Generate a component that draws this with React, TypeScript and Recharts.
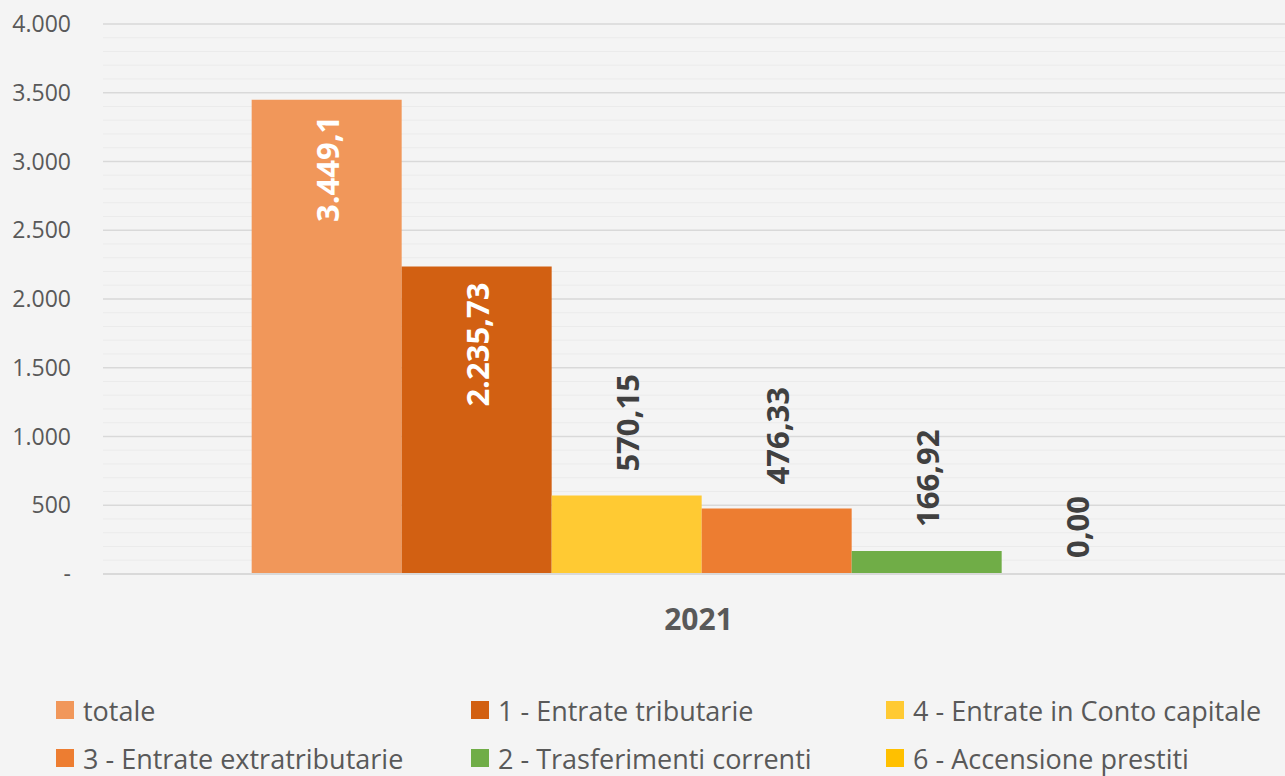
import { BarChart, Bar, XAxis, YAxis, CartesianGrid, LabelList } from "recharts";

const categories = ["2021"];

const seriesNames = [
  "totale",
  "1 - Entrate tributarie",
  "4 - Entrate in Conto capitale",
  "3 - Entrate extratributarie",
  "2 - Trasferimenti correnti",
  "6 - Accensione prestiti",
];
const seriesValues = [3449.1, 2235.73, 570.15, 476.33, 166.92, 0];
const seriesLabels = ["3.449,1", "2.235,73", "570,15", "476,33", "166,92", "0,00"];
const seriesColors = ["#F1975A", "#D26012", "#FFCA33", "#ED7D31", "#70AD47", "#FFC000"];

const yTicks = [0, 500, 1000, 1500, 2000, 2500, 3000, 3500, 4000];
const yTickLabels = ["-", "500", "1.000", "1.500", "2.000", "2.500", "3.000", "3.500", "4.000"];
const minorTicks = [
  100, 200, 300, 400, 600, 700, 800, 900, 1100, 1200, 1300, 1400, 1600, 1700, 1800, 1900,
  2100, 2200, 2300, 2400, 2600, 2700, 2800, 2900, 3100, 3200, 3300, 3400, 3600, 3700, 3800, 3900,
];

const data = categories.map((category, ci) => {
  const row: Record<string, string | number> = { category };
  seriesValues.forEach((v, i) => {
    row["s" + i] = ci === 0 ? v : 0;
  });
  return row;
});

const FONT = "'Open Sans', 'Segoe UI', sans-serif";

// white labels inside the two tall bars, dark ones above the others
const makeLabel = (idx: number) => (props: any) => {
  const { x, y, width, value } = props;
  const inside = idx < 2;
  const cx = Number(x) + Number(width) / 2;
  const gap = Number(value) === 0 ? 16 : 24;
  const ty = inside ? Number(y) + 16 : Number(y) - gap;
  return (
    <text
      x={cx}
      y={ty}
      transform={`rotate(-90 ${cx} ${ty})`}
      textAnchor={inside ? "end" : "start"}
      dominantBaseline="central"
      fill={inside ? "#ffffff" : "#404040"}
      fontSize={31}
      fontWeight={700}
      fontFamily={FONT}
    >
      {seriesLabels[idx]}
    </text>
  );
};

const legendCols = [56, 471, 886];
const legendRows = [710, 758];

export default function App() {
  return (
    <div
      style={{
        position: "fixed",
        left: 0,
        top: 0,
        width: 1285,
        height: 776,
        overflow: "hidden",
        background: "#f4f4f4",
        fontFamily: FONT,
      }}
    >
      <BarChart
        width={1302}
        height={776}
        data={data}
        margin={{ top: 24, right: 0, left: 0, bottom: 142 }}
        barCategoryGap="12.4%"
        barGap={0}
      >
        <CartesianGrid vertical={false} horizontalValues={minorTicks} stroke="#ebebeb" strokeWidth={1} />
        <CartesianGrid vertical={false} stroke="#d9d9d9" strokeWidth={1.5} />
        <XAxis
          dataKey="category"
          height={60}
          tickLine={false}
          tickSize={0}
          tickMargin={35}
          axisLine={{ stroke: "#d9d9d9", strokeWidth: 2 }}
          tick={{ fontSize: 30, fontWeight: 700, fill: "#595959", fontFamily: FONT, dx: -4 }}
        />
        <YAxis
          width={103}
          domain={[0, 4000]}
          ticks={yTicks}
          interval={0}
          axisLine={false}
          tickLine={false}
          tickSize={0}
          tickMargin={32}
          tickFormatter={(v: number) => yTickLabels[yTicks.indexOf(v)] ?? String(v)}
          tick={{ fontSize: 23, fill: "#595959", fontFamily: FONT }}
        />
        {seriesNames.map((name, i) => (
          <Bar
            key={name}
            dataKey={"s" + i}
            name={name}
            fill={seriesColors[i]}
            minPointSize={0.01}
            isAnimationActive={false}
          >
            <LabelList dataKey={"s" + i} content={makeLabel(i)} />
          </Bar>
        ))}
      </BarChart>
      {seriesNames.map((name, i) => {
        const left = legendCols[i % 3];
        const cy = legendRows[Math.floor(i / 3)];
        return (
          <div
            key={name}
            style={{
              position: "absolute",
              left,
              top: cy - 20,
              height: 40,
              display: "flex",
              alignItems: "center",
              whiteSpace: "nowrap",
              fontSize: 27,
              color: "#595959",
            }}
          >
            <span style={{ display: "inline-block", width: 18, height: 18, background: seriesColors[i], marginRight: 9 }} />
            <span>{name}</span>
          </div>
        );
      })}
    </div>
  );
}
